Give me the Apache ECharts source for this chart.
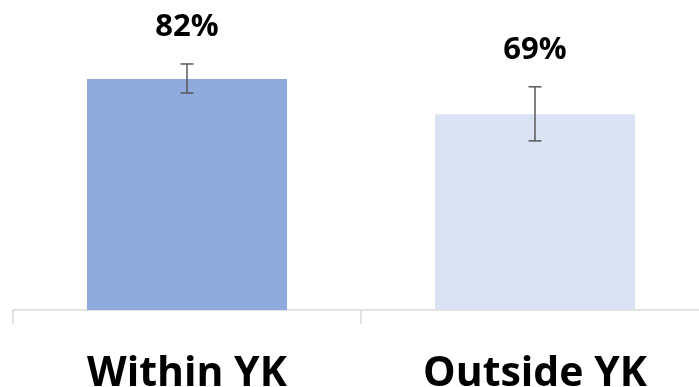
<!DOCTYPE html>
<html>
<head>
<meta charset="utf-8">
<script src="https://cdn.jsdelivr.net/npm/echarts@6/dist/echarts.min.js"></script>
<style>
html,body{margin:0;padding:0;background:#fff;}
#chart{width:699px;height:387px;}
</style>
</head>
<body>
<div id="chart"></div>
<script>
const categories = ["Within YK", "Outside YK"];
const values = [82, 69.5];
const valueLabels = ["82%", "69%"];
const errLow = [77, 60];
const errHigh = [87.3, 79.2];
const barColors = ["#8FAADC", "#DAE3F3"];

const chart = echarts.init(document.getElementById('chart'), null, {renderer: 'canvas'});
const errData = categories.map((c, i) => [i, errLow[i], errHigh[i], valueLabels[i]]);

chart.setOption({
  animation: false,
  grid: {left: 13, right: -10, top: 0, bottom: 77, containLabel: false, outerBoundsMode: 'none'},
  xAxis: {
    type: 'category',
    data: categories,
    axisLine: {show: true, lineStyle: {color: '#D9D9D9', width: 1.5}},
    axisTick: {show: true, length: 14, alignWithLabel: false, lineStyle: {color: '#D9D9D9', width: 1.5}},
    axisLabel: {
      color: '#000', fontFamily: 'Open Sans', fontWeight: 'bold', fontSize: 41,
      margin: 44, interval: 0, hideOverlap: false
    }
  },
  yAxis: {
    type: 'value', min: 0, max: 110,
    show: false, splitLine: {show: false}
  },
  series: [
    {
      type: 'bar',
      barWidth: 200,
      data: values.map((v, i) => ({value: v, itemStyle: {color: barColors[i]}})),
      label: {show: false}
    },
    {
      type: 'custom',
      data: errData,
      encode: {x: 0, y: [1, 2]},
      z: 10,
      renderItem: function (params, api) {
        const i = api.value(0);
        const lo = api.coord([i, api.value(1)]);
        const hi = api.coord([i, api.value(2)]);
        const hw = 6.5;
        const st = {stroke: '#595959', lineWidth: 1.5};
        return {
          type: 'group',
          children: [
            {type: 'line', shape: {x1: hi[0], y1: hi[1], x2: lo[0], y2: lo[1]}, style: st},
            {type: 'line', shape: {x1: hi[0] - hw, y1: hi[1], x2: hi[0] + hw, y2: hi[1]}, style: st},
            {type: 'line', shape: {x1: lo[0] - hw, y1: lo[1], x2: lo[0] + hw, y2: lo[1]}, style: st},
            {type: 'text', style: {
              text: valueLabels[params.dataIndex], x: hi[0], y: hi[1] - 37,
              align: 'center', verticalAlign: 'middle',
              font: 'bold 31px "Open Sans"', fill: '#000'
            }}
          ]
        };
      }
    }
  ]
});
</script>
</body>
</html>
